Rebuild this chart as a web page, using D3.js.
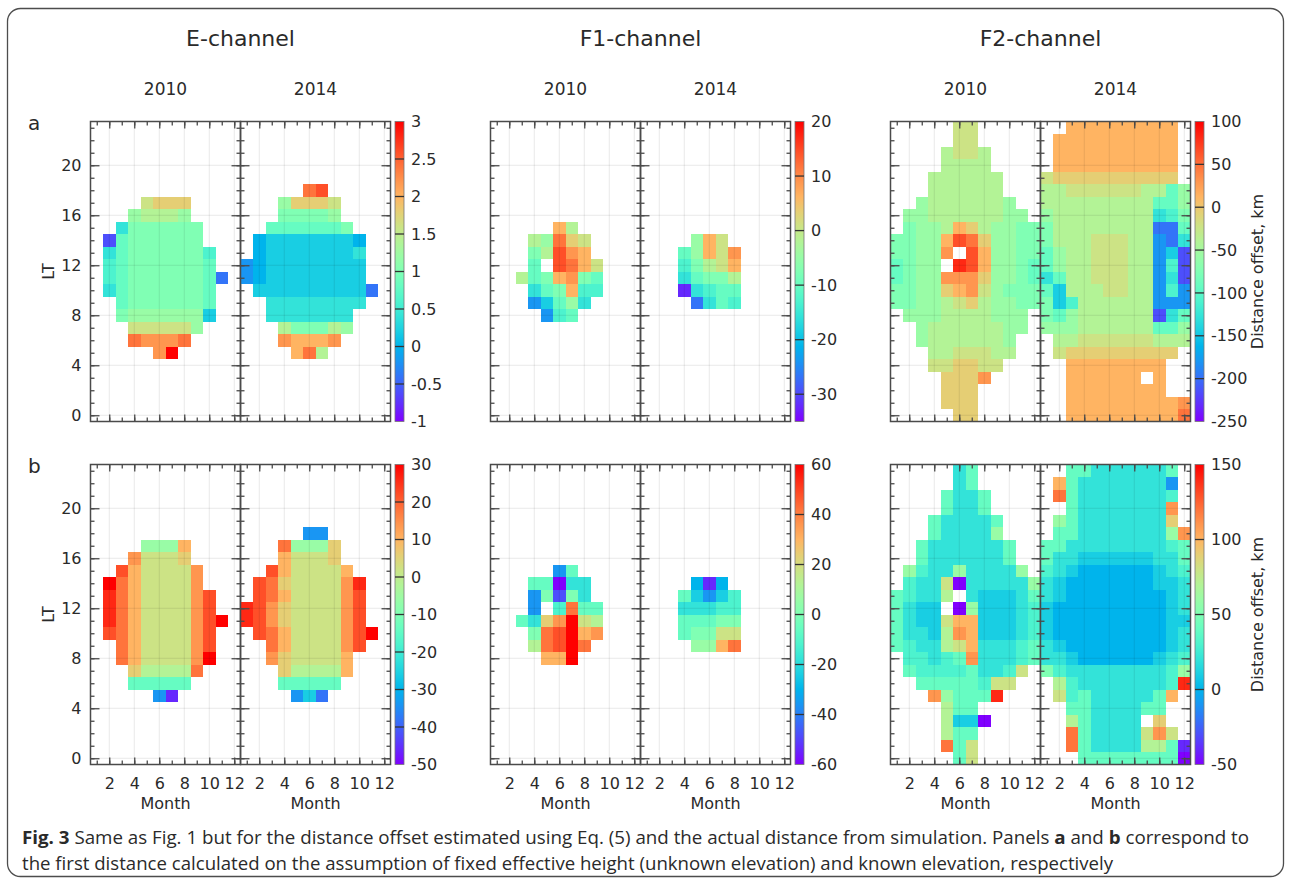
<!DOCTYPE html>
<html><head><meta charset="utf-8">
<script src="https://cdn.jsdelivr.net/npm/d3@7"></script>
<style>
body{margin:0;background:#fff}
svg text{font-family:"DejaVu Sans","Liberation Sans",Arial,sans-serif;fill:#2a2a2a}
</style>
</head><body>
<svg id="c" width="1291" height="883"></svg>
<script>
// ---------------- DATA ----------------
const months = [1,2,3,4,5,6,7,8,9,10,11,12];
const hours = d3.range(0,24);
const channels = ["E-channel","F1-channel","F2-channel"];
const years = ["2010","2014"];
const rowLabels = ["a","b"];
const monthTicks = [2,4,6,8,10,12];
const ltTicks = [0,4,8,12,16,20];
const cbDomainA = [[-1,3],[-35,20],[-250,100]];
const cbDomainB = [[-50,30],[-60,60],[-50,150]];
const cbTicksA = [[-1,-0.5,0,0.5,1,1.5,2,2.5,3],[-30,-20,-10,0,10,20],[-250,-200,-150,-100,-50,0,50,100]];
const cbTicksB = [[-50,-40,-30,-20,-10,0,10,20,30],[-60,-40,-20,0,20,40,60],[-50,0,50,100,150]];
const cbTitle = "Distance offset, km";
// cell levels: one string per LT hour (23 down to 0), one char per month;
// "." = no data, a..u = position on the colour bar (a = bottom, u = top, in 1/20 steps)
const levelChars = "abcdefghijklmnopqrstu";
const E_a_2010 = ["............","............","............","............","............","............",
 "....nooo....","...lmmml....","..hkkkkkk...",".cjkkkkkk...",".hjkkkkkki..",".ijkkkkkkj..",".ijkkkkkkjd.",
 ".hjkkkkkkj..","..jkkkkkkj..","..kllllllg..","...nnnnnl...","...rqqqr....",".....qu.....",
 "............","............","............","............","............"];
const E_a_2014 = ["............","............","............","............","............",
 ".....rs.....","...looon....","...kkkkl....","..jjjjjjk...",".fgggggggf..",".fgggggggh..","efgggggggg..",
 "efgggggggg..",".gggggggggd.","..hhhhhhhh..","..hhhhhhh...","...mkkkml...","...qpppq....","....prm.....",
 "............","............","............","............","............"];
const E_b_2010 = ["............","............","............","............","............","............",
 "....lllp....","...qnnno....","..spnnnnq...",".urpnnnnq...",".trpnnnnqs..",".trpnnnnqs..",".trpnnnnqsu.",
 ".srpnnnnqs..","..rpnnnnqs..","..rpnnnnqu..","...ommmmr...","...jjjjj....",".....eb.....",
 "............","............","............","............","............"];
const E_b_2014 = ["............","............","............","............","............",
 ".....ee.....","...rlllo....","...pnnno....","..spnnnnp...",".sronnnnqt..",".srpnnnnqs..","tsqonnnnqs..",
 "tsqonnnnqs..",".srpnnnnqsu.","..rpnnnnqs..","..qonnnnp...","...ommmmp...","...jjjjj....","....egd.....",
 "............","............","............","............","............"];
const F1_a_2010 = ["............","............","............","............","............","............","............","............",
 ".....pm.....","...mlron....","...kmsqp....","...j.srpn...","..mjkpqkj...","...hjkpii...","...egjlh....","....eij.....",
 "............","............","............","............","............","............","............","............"];
const F1_a_2014 = ["............","............","............","............","............","............","............","............","............",
 "....lpn.....","...jlpnq....","...ikmnp....","...hjkkm....","...bhijj....","....dhji....",
 "............","............","............","............","............","............","............","............","............"];
const F1_b_2010 = ["............","............","............","............","............","............","............","............",
 ".....ej.....","...jjahh....","...ekckh....","...e.irjj...","..jhoqunm...","...krsupq...","...mrsur....","....ppu.....",
 "............","............","............","............","............","............","............","............"];
const F1_b_2014 = ["............","............","............","............","............","............","............","............","............",
 "....fbf.....","...jgegi....","...hhhii....","...jjjkk....","...jkknn....","....llpr....",
 "............","............","............","............","............","............","............","............","............"];
const F2_a_2010 = [".....nn.....",".....nn.....","....mnnm....","....mmmm....","...mmmmmm...","...mmmmmm...",
 "..lmmmmmml..",".llmmmmmmll.",".kllmpomllkk","kkllpsrollkk","kkllq.spllkk","jkll.tspllkj","jkllqqqollkj",
 "kkllopqnlkkk","kkllmnomllkk",".lllmmmmlll.","..lmmmmmmll.","..lmmmmmml..","...mmnnnmm..","...nnoonn...",
 "....oooq....","....ooo.....","....ooo.....",".....oo....."];
const F2_a_2014 = ["..ppppppppp.",".pppppppppp.",".pppppppppp.",".pppppppppp.","noooooooooo.","mmnnnnnnmmjl",
 "mmmmmmmmmjjl","lmmmmmmmmhik","kmmmmmmmmddj","kmmmnnnmmedh","jlmmnnnmmegc","jlmmnnnmmeic","hjmmnnnmmehc",
 "jgmmmnnmmeie","kgimmmmmmeee","kjlmmmmmmchj","lllmmmmmmjjl",".mmnnnnnnmmm",".nooooooooo.","..pppppppp..",
 "..pppppp.p..","..pppppppp..","..pppppppppq","..pppppppppr"];
const F2_b_2010 = [".....hj.....",".....hj.....","....jhhj....","....jhhj....","...jhhhhj...","...jhhhhl...",
 "..jhhhhhhj..","..jhhhhhhj..",".lihhlhhhhl.",".ihhnahhhhhl","jihhm.hggghj","jhgg.alggghi","jhggnppggghi",
 "jhhgmqpggghi","jihhmnphhhij",".iihijqhhhij",".jiiiijhhin.","..jjjjjinn..","...qljjjt...","....mjj.....",
 "....mgga....","....mjj.....","....rjn.....",".....jn....."];
const F2_b_2014 = ["..jjhhhhhhj.",".pjhhhhhhhe.",".rjhhhhhhhi.","..jhhhhhhhq.",".ljhhhhhhho.",".jjhhhhhhhlq",
 "jjhhhhhhhhij","jhhgggggghhj","ihgffffffghi","hgfffffffggh","hgffffffffgh","gfffffffffgh","gfffffffffgg",
 "gfffffffffgh","hgffffffffgh","hhgffffffghi","kihhhhhhhhil",".mihhhhhhhit",".nijhhhhhjp.","..jjhhhhjj..",
 "..mjhhhh.o..","..rjhhhhnqn.","..rjhhhhmmjb","...jjjjjjjja"];
const captionLine1a = "Fig. 3";
const captionLine1b = " Same as Fig. 1 but for the distance offset estimated using Eq. (5) and the actual distance from simulation. Panels ";
const captionLine2 = "the first distance calculated on the assumption of fixed effective height (unknown elevation) and known elevation, respectively";

// ---------------- DRAWING ----------------
const panelCodes = [
  [[E_a_2010,E_a_2014],[F1_a_2010,F1_a_2014],[F2_a_2010,F2_a_2014]],
  [[E_b_2010,E_b_2014],[F1_b_2010,F1_b_2014],[F2_b_2010,F2_b_2014]]
];
const cbDomains = [cbDomainA, cbDomainB];
const cbTicks = [cbTicksA, cbTicksB];

function rainbow(t){
  t = Math.max(0, Math.min(1, t));
  const r = Math.min(1, Math.abs(2*t - 0.5));
  const g = Math.sin(Math.PI*t);
  const b = Math.cos(Math.PI*t/2);
  return d3.rgb(r*255, g*255, b*255).formatHex();
}

const svg = d3.select("#c");
svg.append("rect").attr("x",7.5).attr("y",8.5).attr("width",1276).attr("height",868)
  .attr("rx",13).attr("fill","none").attr("stroke","#4d4d4d").attr("stroke-width",1.3);

const chLeft = [90.5, 490.5, 890.5];
const rowTop = [121.5, 464.5];
const PW = 150, PH = 300;
const frameCol = "#4a4a4a";

const defs = svg.append("defs");
const grad = defs.append("linearGradient").attr("id","rb").attr("x1",0).attr("y1",1).attr("x2",0).attr("y2",0);
d3.range(0,1.0001,0.05).forEach(t=>grad.append("stop").attr("offset",t).attr("stop-color",rainbow(t)));

channels.forEach((ch,c)=>{
  svg.append("text").attr("x",chLeft[c]+PW).attr("y",46).attr("text-anchor","middle")
    .style("font-size","22px").text(ch);
  years.forEach((yr,yi)=>{
    svg.append("text").attr("x",chLeft[c]+yi*PW+PW/2).attr("y",95).attr("text-anchor","middle")
      .style("font-size","17px").text(yr);
  });
});

rowLabels.forEach((rl,r)=>{
  const top = rowTop[r];
  svg.append("text").attr("x",28).attr("y",top+8).style("font-size","20px").text(rl);
  channels.forEach((ch,c)=>{
    const [lo,hi] = cbDomains[r][c];
    years.forEach((yr,yi)=>{
      const x0 = chLeft[c] + yi*PW;
      const x = d3.scaleLinear().domain([0.5,12.5]).range([x0, x0+PW]);
      const y = d3.scaleLinear().domain([-0.5,23.5]).range([top+PH, top]);
      const codes = panelCodes[r][c][yi];
      const cells = [];
      codes.forEach((row,i)=>{
        const h = 23 - i;
        [...row].forEach((chr,j)=>{
          if (chr === ".") return;
          const v = lo + levelChars.indexOf(chr)/20*(hi-lo);
          cells.push({m: months[j], h, v});
        });
      });
      const g = svg.append("g");
      g.selectAll("rect.cell").data(cells).join("rect").attr("class","cell")
        .attr("x",d=>x(d.m-0.5)).attr("y",d=>y(d.h+0.5))
        .attr("width",x(1.5)-x(0.5)).attr("height",y(-0.5)-y(0.5))
        .attr("fill",d=>rainbow((d.v-lo)/(hi-lo)))
        .attr("shape-rendering","crispEdges");
      g.selectAll("line.gx").data(monthTicks).join("line")
        .attr("x1",d=>x(d)).attr("x2",d=>x(d)).attr("y1",top).attr("y2",top+PH)
        .attr("stroke","#000").attr("stroke-opacity",0.09).attr("stroke-width",1);
      g.selectAll("line.gy").data(ltTicks).join("line")
        .attr("y1",d=>y(d)).attr("y2",d=>y(d)).attr("x1",x0).attr("x2",x0+PW)
        .attr("stroke","#000").attr("stroke-opacity",0.09).attr("stroke-width",1);
      const tickStyle = sel => { sel.select(".domain").remove(); sel.selectAll("text").remove();
        sel.selectAll("line").attr("stroke",frameCol).attr("stroke-width",1.3); };
      g.append("g").attr("transform",`translate(${x0},0)`).call(d3.axisLeft(y).tickValues(hours).tickSize(-4)).call(tickStyle);
      g.append("g").attr("transform",`translate(${x0},0)`).call(d3.axisLeft(y).tickValues(ltTicks).tickSize(-9)).call(tickStyle);
      g.append("g").attr("transform",`translate(${x0+PW},0)`).call(d3.axisRight(y).tickValues(hours).tickSize(-4)).call(tickStyle);
      g.append("g").attr("transform",`translate(${x0+PW},0)`).call(d3.axisRight(y).tickValues(ltTicks).tickSize(-9)).call(tickStyle);
      g.append("g").attr("transform",`translate(0,${top})`).call(d3.axisTop(x).tickValues(months).tickSize(-4)).call(tickStyle);
      g.append("g").attr("transform",`translate(0,${top})`).call(d3.axisTop(x).tickValues(monthTicks).tickSize(-7)).call(tickStyle);
      g.append("g").attr("transform",`translate(0,${top+PH})`).call(d3.axisBottom(x).tickValues(months).tickSize(-4)).call(tickStyle);
      g.append("g").attr("transform",`translate(0,${top+PH})`).call(d3.axisBottom(x).tickValues(monthTicks).tickSize(-7)).call(tickStyle);
      g.append("rect").attr("x",x0).attr("y",top).attr("width",PW).attr("height",PH)
        .attr("fill","none").attr("stroke",frameCol).attr("stroke-width",1.5);
      if (c===0 && yi===0) {
        const ya = g.append("g").attr("transform",`translate(${x0},0)`)
          .call(d3.axisLeft(y).tickValues(ltTicks).tickSize(0).tickPadding(9).tickFormat(d=>String(d)));
        ya.select(".domain").remove();
        ya.selectAll("text").style("font-size","16px").attr("fill","#2a2a2a");
        svg.append("text").attr("transform",`translate(54,${top+PH/2}) rotate(-90)`)
          .attr("text-anchor","middle").style("font-size","16px").text("LT");
      }
      if (r===1) {
        const xa = g.append("g").attr("transform",`translate(0,${top+PH})`)
          .call(d3.axisBottom(x).tickValues(monthTicks).tickSize(0).tickPadding(13).tickFormat(d=>String(d)));
        xa.select(".domain").remove();
        xa.selectAll("text").style("font-size","16px").attr("fill","#2a2a2a");
        svg.append("text").attr("x",x0+PW/2).attr("y",809).attr("text-anchor","middle")
          .style("font-size","16px").text("Month");
      }
    });
    const cbx = chLeft[c] + 2*PW + 4.5, cbw = 9;
    const cs = d3.scaleLinear().domain([lo,hi]).range([top+PH, top]);
    const cg = svg.append("g");
    cg.append("rect").attr("x",cbx).attr("y",top).attr("width",cbw).attr("height",PH).attr("fill","url(#rb)")
      .attr("stroke","#777").attr("stroke-width",0.8);
    cg.selectAll("line.ct").data(cbTicks[r][c].filter(v=>v>lo && v<hi)).join("line")
      .attr("x1",cbx).attr("x2",cbx+cbw).attr("y1",d=>cs(d)).attr("y2",d=>cs(d))
      .attr("stroke","#333").attr("stroke-width",1.3);
    const ca = cg.append("g").attr("transform",`translate(${cbx+cbw},0)`)
      .call(d3.axisRight(cs).tickValues(cbTicks[r][c]).tickSize(0).tickPadding(7).tickFormat(d=>String(d)));
    ca.select(".domain").remove();
    ca.selectAll("text").style("font-size","16px").attr("fill","#2a2a2a");
    if (c===2) {
      svg.append("text").attr("transform",`translate(1263,${top+PH/2}) rotate(-90)`)
        .attr("text-anchor","middle").style("font-size","16px").text(cbTitle);
    }
  });
});

const cap1 = svg.append("text").attr("x",22).attr("y",844)
  .attr("textLength",1227).attr("lengthAdjust","spacingAndGlyphs")
  .style("font-family","'Open Sans',sans-serif").style("font-size","17.5px");
cap1.append("tspan").style("font-weight","bold").text(captionLine1a);
cap1.append("tspan").text(captionLine1b);
cap1.append("tspan").style("font-weight","bold").text(rowLabels[0]);
cap1.append("tspan").text(" and ");
cap1.append("tspan").style("font-weight","bold").text(rowLabels[1]);
cap1.append("tspan").text(" correspond to");
svg.append("text").attr("x",22).attr("y",870)
  .attr("textLength",1091).attr("lengthAdjust","spacingAndGlyphs")
  .style("font-family","'Open Sans',sans-serif").style("font-size","17.5px").text(captionLine2);
</script>
</body></html>
